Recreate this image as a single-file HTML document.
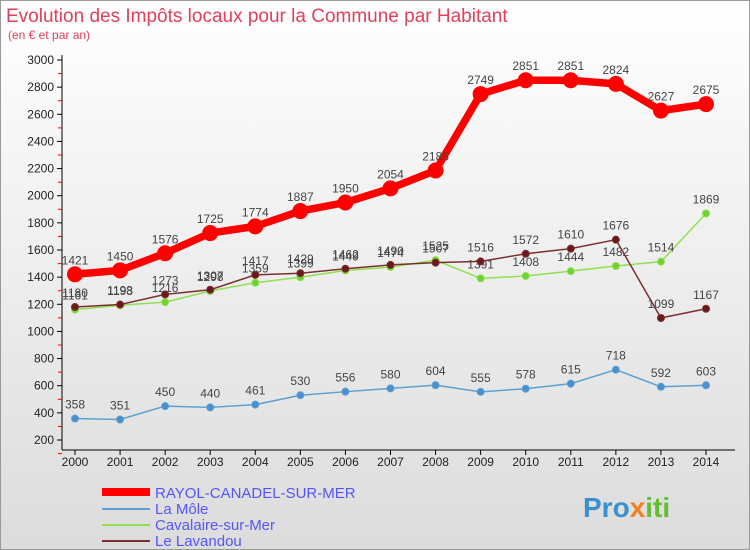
<!DOCTYPE html>
<html><head><meta charset="utf-8"><style>
body{margin:0;background:#fff;font-family:"Liberation Sans",sans-serif}
#c{position:relative;width:750px;height:550px;overflow:hidden}
</style></head><body>
<div id="c">
<svg width="750" height="550" xmlns="http://www.w3.org/2000/svg" font-family="Liberation Sans, sans-serif">
<defs><linearGradient id="bg" x1="0" y1="0" x2="0" y2="1"><stop offset="0" stop-color="#ffffff"/><stop offset="1" stop-color="#dcdcdc"/></linearGradient></defs>
<rect x="0.5" y="0.5" width="749" height="549" fill="url(#bg)" stroke="#999"/>
<text x="6" y="22" font-size="19" fill="#e0405a">Evolution des Impôts locaux pour la Commune par Habitant</text>
<text x="8" y="39" font-size="12" fill="#e0405a">(en € et par an)</text>
<g id="axes"></g><g id="series"></g>
<g>
<line x1="102" y1="492" x2="150" y2="492" stroke="#ff0000" stroke-width="8"/>
<text x="155" y="498" font-size="15" fill="#5555ff">RAYOL-CANADEL-SUR-MER</text>
<line x1="102" y1="509" x2="150" y2="509" stroke="#5ba0d0" stroke-width="2"/>
<text x="155" y="514" font-size="15" fill="#5555ff">La Môle</text>
<line x1="102" y1="525" x2="150" y2="525" stroke="#90e050" stroke-width="2"/>
<text x="155" y="530" font-size="15" fill="#5555ff">Cavalaire-sur-Mer</text>
<line x1="102" y1="541" x2="150" y2="541" stroke="#7a3030" stroke-width="2"/>
<text x="155" y="546" font-size="15" fill="#5555ff">Le Lavandou</text>
</g>
<text x="583" y="517" font-size="28" font-weight="bold" fill="#3a8fd0">Pro<tspan fill="#f08020">x</tspan><tspan fill="#60c030">iti</tspan></text>
</svg>
</div>
<script>
const years=["2000","2001","2002","2003","2004","2005","2006","2007","2008","2009","2010","2011","2012","2013","2014"];
const yTicks=[200,400,600,800,1000,1200,1400,1600,1800,2000,2200,2400,2600,2800,3000];
const rayol=[1421,1450,1576,1725,1774,1887,1950,2054,2186,2749,2851,2851,2824,2627,2675];
const laMole=[358,351,450,440,461,530,556,580,604,555,578,615,718,592,603];
const cavalaire=[1161,1193,1216,1298,1359,1399,1449,1474,1525,1391,1408,1444,1482,1514,1869];
const lavandou=[1180,1198,1273,1307,1417,1429,1462,1490,1507,1516,1572,1610,1676,1099,1167];
const NS="http://www.w3.org/2000/svg";
const X=i=>75+i*(706-75)/14;
const Y=v=>440-(v-200)*(380/2800);
function mk(t,a,p){const e=document.createElementNS(NS,t);for(const k in a)e.setAttribute(k,a[k]);p.appendChild(e);return e;}
const ax=document.getElementById('axes');
const yl=mk('line',{x1:62,y1:55,x2:62,y2:450,stroke:'#000'},ax);


const xl=mk('line',{x1:62,y1:450,x2:735,y2:450,stroke:'#000'},ax);


yTicks.forEach(v=>{
 mk('line',{x1:57,x2:62,y1:Y(v),y2:Y(v),stroke:'#000'},ax);
 mk('line',{x1:58,x2:62,y1:Y(v)+13.6,y2:Y(v)+13.6,stroke:'#f00'},ax);
 const t=mk('text',{x:54,y:Y(v)+4,'font-size':12,'text-anchor':'end',fill:'#222'},ax);t.textContent=v;
 
 
});
years.forEach((y,i)=>{
 mk('line',{x1:X(i),x2:X(i),y1:450,y2:455,stroke:'#000'},ax);
 const t=mk('text',{x:X(i),y:466,'font-size':12,'text-anchor':'middle',fill:'#222'},ax);t.textContent=y;
 
 
});
const sg=document.getElementById('series');
function series(data,color,w,r,name,fill){
 const g=mk('g',{},sg);
 
 
 const l=mk('polyline',{points:data.map((v,i)=>X(i)+','+Y(v)).join(' '),fill:'none',stroke:color,'stroke-width':w,'stroke-linejoin':'round'},g);
 
 
 data.forEach((v,i)=>{
  const c=mk('circle',{cx:X(i),cy:Y(v),r:r,fill:fill,stroke:color,'stroke-width':1},g);
  
  
  const t=mk('text',{x:X(i),y:Y(v)-10,'font-size':12,'text-anchor':'middle',fill:'#444'},g);t.textContent=v;
  
  
 });
}
series(laMole,'#5ba0d0',1.5,3.5,'la-mole','#4a90d0');
series(cavalaire,'#90e050',1.5,3.5,'cavalaire','#70d030');
series(lavandou,'#7a3030',1.5,3.5,'lavandou','#6a1a1a');
series(rayol,'#ff0000',7.5,7.5,'rayol','#ff0000');
</script>
</body></html>
